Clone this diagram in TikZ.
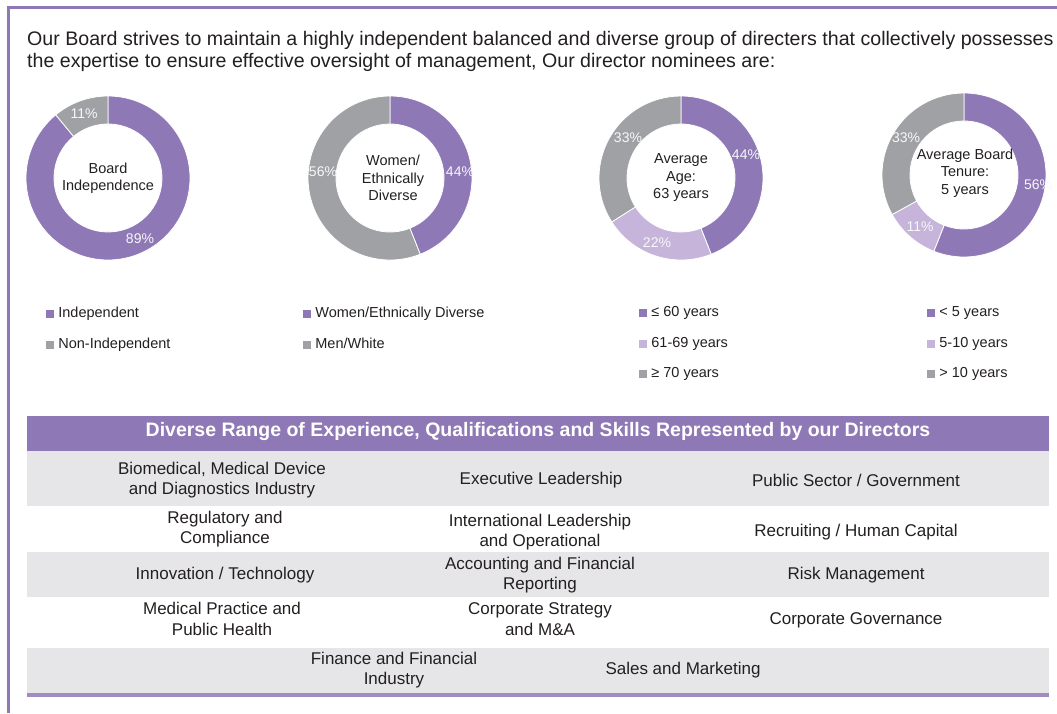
\documentclass[tikz,border=0pt]{standalone}
\usepackage{fontspec}
\setmainfont{Liberation Sans}
\usetikzlibrary{calc,positioning}

\definecolor{boardpurple}{HTML}{8F78B6}
\definecolor{lightpurple}{HTML}{C6B4DA}
\definecolor{ringgray}{HTML}{A0A1A4}
\definecolor{rowgray}{HTML}{E6E6E8}
\definecolor{inktext}{HTML}{231F20}

% one slice of a ring: centre, from %, to %, colour
\newcommand{\rout}{82}
\newcommand{\rin}{54}
\newcommand{\ringpart}[4]{%
  \filldraw[fill=#4,draw=white,line width=0.8pt]
    ($(#1)+({-90+3.6*#2}:\rout)$) arc[start angle={-90+3.6*#2},end angle={-90+3.6*#3},radius=\rout]
    -- ($(#1)+({-90+3.6*#3}:\rin)$) arc[start angle={-90+3.6*#3},end angle={-90+3.6*#2},radius=\rin] -- cycle;}

\tikzset{
  ringtext/.style={align=center,font=\fontsize{14.5}{17.5}\selectfont,text=inktext,inner sep=0pt},
  pcttext/.style={font=\fontsize{14}{16}\selectfont,text=white!92!ringgray,inner sep=0pt},
  keybox/.style={fill=#1,minimum size=8pt,inner sep=0pt},
  keytext/.style={font=\fontsize{14.5}{17}\selectfont,text=inktext,inner sep=0pt,anchor=west,
    text height=10.5pt,text depth=3pt},
  skilltext/.style={align=center,font=\fontsize{17}{20.5}\selectfont,text=inktext,inner sep=0pt},
}

\begin{document}
\begin{tikzpicture}[x=1pt,y=-1pt]
    \useasboundingbox (0,0) rectangle (1057,713);
    % frame
    \fill[boardpurple] (7,6) rectangle (1057,9);
    \fill[boardpurple] (7,6) rectangle (10,713);

    % heading
    \node[anchor=base west,inner sep=0pt,text=inktext,font=\fontsize{19.6}{22}\selectfont] (intro1) at (27,45)
        {Our Board strives to maintain a highly independent balanced and diverse group of directers that collectively possesses};
    \node[anchor=base west,inner sep=0pt,text=inktext,font=\fontsize{19.6}{22}\selectfont] (intro2) at (27,67)
        {the expertise to ensure effective oversight of management, Our director nominees are:};

    % rings
    \coordinate (indep) at (108,178);
    \coordinate (divers) at (390,178);
    \coordinate (age) at (681,178);
    \coordinate (tenure) at (964,175);

    \ringpart{indep}{0}{89}{boardpurple}
    \ringpart{indep}{89}{100}{ringgray}
    \ringpart{divers}{0}{44}{boardpurple}
    \ringpart{divers}{44}{100}{ringgray}
    \ringpart{age}{0}{44}{boardpurple}
    \ringpart{age}{44}{66}{lightpurple}
    \ringpart{age}{66}{100}{ringgray}
    \ringpart{tenure}{0}{56}{boardpurple}
    \ringpart{tenure}{56}{67}{lightpurple}
    \ringpart{tenure}{67}{100}{ringgray}

    \node[ringtext] (indeplabel) at (indep) {Board\\Independence};
    \node[ringtext] (diverslabel) at ($(divers)+(3,0)$) {Women/\\Ethnically\\Diverse};
    \node[ringtext] (agelabel) at ($(age)+(0,0)$) {Average\\Age:\\63 years};
    \node[ringtext] (tenurelabel) at ($(tenure)+(1,-2)$) {Average Board\\Tenure:\\5 years};

    \node[pcttext] (indepa) at ($(indep)+(-24,-64)$) {11\%};
    \node[pcttext] (indepb) at ($(indep)+(32,61)$) {89\%};
    \node[pcttext] (diversa) at ($(divers)+(70,-6)$) {44\%};
    \node[pcttext] (diversb) at ($(divers)+(-67,-6)$) {56\%};
    \node[pcttext] (agea) at ($(age)+(65,-23)$) {44\%};
    \node[pcttext] (ageb) at ($(age)+(-24,65)$) {22\%};
    \node[pcttext] (agec) at ($(age)+(-53,-40)$) {33\%};
    \node[pcttext] (tenurea) at ($(tenure)+(74,10)$) {56\%};
    \node[pcttext] (tenureb) at ($(tenure)+(-44,52)$) {11\%};
    \node[pcttext] (tenurec) at ($(tenure)+(-58,-37)$) {33\%};

    % legends
    \node[keybox=boardpurple] (keyindep) at (50,314) {};
    \node[keytext,right=4pt of keyindep] {Independent};
    \node[keybox=ringgray] (keynonindep) at (50,345) {};
    \node[keytext,right=4pt of keynonindep] {Non-Independent};

    \node[keybox=boardpurple] (keywomen) at (307,314) {};
    \node[keytext,right=4pt of keywomen] {Women/Ethnically Diverse};
    \node[keybox=ringgray] (keymen) at (307,345) {};
    \node[keytext,right=4pt of keymen] {Men/White};

    \node[keybox=boardpurple] (keyyoung) at (643,313) {};
    \node[keytext,right=4pt of keyyoung] {≤ 60 years};
    \node[keybox=lightpurple] (keymid) at (643,344) {};
    \node[keytext,right=4pt of keymid] {61-69 years};
    \node[keybox=ringgray] (keyold) at (643,374) {};
    \node[keytext,right=4pt of keyold] {≥ 70 years};

    \node[keybox=boardpurple] (keyshort) at (931,313) {};
    \node[keytext,right=4pt of keyshort] {< 5 years};
    \node[keybox=lightpurple] (keymedium) at (931,344) {};
    \node[keytext,right=4pt of keymedium] {5-10 years};
    \node[keybox=ringgray] (keylong) at (931,374) {};
    \node[keytext,right=4pt of keylong] {> 10 years};

    % skills table
    \fill[boardpurple] (27,416) rectangle (1049,451);
    \fill[rowgray] (27,451) rectangle (1049,506);
    \fill[rowgray] (27,552) rectangle (1049,597);
    \fill[rowgray] (27,648) rectangle (1049,693);
    \fill[boardpurple!85] (27,693) rectangle (1049,697);

    \node[font=\bfseries\fontsize{19.5}{22}\selectfont,text=white,inner sep=0pt] (skillhead) at (538,431)
        {Diverse Range of Experience, Qualifications and Skills Represented by our Directors};

    \node[skilltext] (biomed) at (222,480) {Biomedical, Medical Device\\and Diagnostics Industry};
    \node[skilltext] (execlead) at (541,480) {Executive Leadership};
    \node[skilltext] (public) at (856,480) {Public Sector / Government};

    \node[skilltext] (regul) at (225,529) {Regulatory and\\Compliance};
    \node[skilltext] (intlead) at (540,532) {International Leadership\\and Operational};
    \node[skilltext] (recruit) at (856,532) {Recruiting / Human Capital};

    \node[skilltext] (innov) at (225,575) {Innovation / Technology};
    \node[skilltext] (account) at (540,575) {Accounting and Financial\\Reporting};
    \node[skilltext] (risk) at (856,575) {Risk Management};

    \node[skilltext] (medprac) at (222,619) {Medical Practice and\\Public Health};
    \node[skilltext] (strategy) at (540,619) {Corporate Strategy\\and M\&A};
    \node[skilltext] (govern) at (856,620) {Corporate Governance};

    \node[skilltext] (finance) at (394,670) {Finance and Financial\\Industry};
    \node[skilltext] (sales) at (683,670) {Sales and Marketing};
\end{tikzpicture}
\end{document}
